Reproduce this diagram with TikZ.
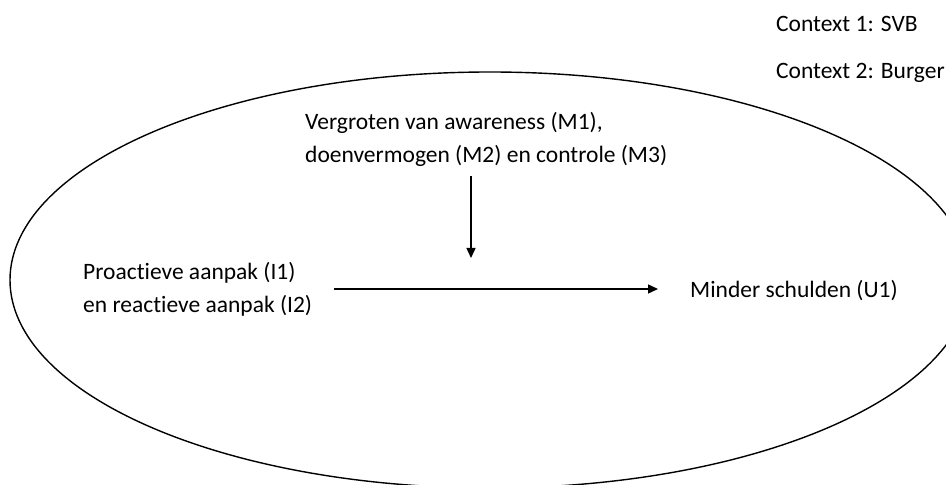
\documentclass[tikz,border=0pt]{standalone}
\usepackage{fontspec}
\setmainfont{Carlito}[Ligatures=NoCommon]
\usetikzlibrary{arrows.meta}

\tikzset{
    txt/.style={inner sep=0pt, align=left, font=\fontsize{23.5}{33.5}\selectfont},
    link/.style={line width=1.4pt, -{Triangle[length=10pt,width=9pt]}}
}

\begin{document}
\begin{tikzpicture}[x=1pt, y=1pt]
    \useasboundingbox (0,0) rectangle (946,485);
    \clip (0,0) rectangle (946,485);

    % Context
    \node[txt, anchor=base west] (ctxA) at (776,453) {Context 1: SVB};
    \node[txt, anchor=base west] (ctxB) at (776,406) {Context 2: Burger};

    % Ellipse
    \draw[line width=1.4pt] (490,205) ellipse [x radius=480, y radius=208];

    % Mechanisms (base = last line)
    \node[txt, anchor=base west] (mech) at (305,322)
        {Vergroten van awareness (M1),\\doenvermogen (M2) en controle (M3)};

    % Interventions
    \node[txt, anchor=base west] (interv) at (83,172)
        {Proactieve aanpak (I1)\\en reactieve aanpak (I2)};

    % Outcome
    \node[txt, anchor=base west] (outcome) at (690,187) {Minder schulden (U1)};

    % Arrows
    \coordinate (effect) at (471,196);
    \draw[link, shorten <=22pt, shorten >=32pt]
        (interv.east |- effect) -- (outcome.west |- effect);
    \draw[link, shorten <=9pt, shorten >=31pt]
        (effect |- mech.south) -- (effect);

\end{tikzpicture}
\end{document}
